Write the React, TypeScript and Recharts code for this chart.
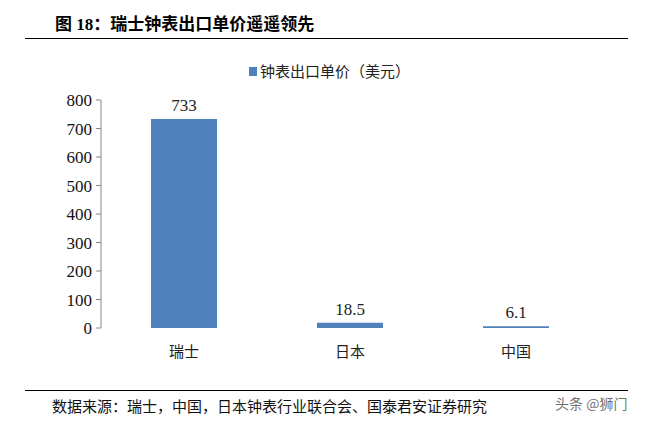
import { Bar, BarChart, LabelList, XAxis, YAxis } from "recharts";

const categories = ["瑞士", "日本", "中国"];
const unitPrice = [733, 18.5, 6.1];
const yTicks = [0, 100, 200, 300, 400, 500, 600, 700, 800];
const edgeTicks = [0, 1, 2, 3];
const seriesName = "钟表出口单价（美元）";

const data = categories.map((name, i) => ({ name, price: unitPrice[i] }));

const serif = '"Liberation Serif", "Times New Roman", "Noto Sans CJK SC", serif';
const cjk = '"Liberation Serif", "Noto Sans CJK SC", serif';
const barColor = "#4F81BD";

export default function App() {
  return (
    <div
      style={{
        position: "absolute",
        left: 0,
        top: 0,
        width: 659,
        height: 421,
        background: "#fff",
        overflow: "hidden",
      }}
    >
      <div
        style={{
          position: "absolute",
          left: 55,
          top: 10,
          fontFamily: cjk,
          fontWeight: "bold",
          fontSize: 17,
          color: "#000",
          whiteSpace: "nowrap",
        }}
      >
        图 18：瑞士钟表出口单价遥遥领先
      </div>
      <div
        style={{
          position: "absolute",
          left: 25,
          top: 38,
          width: 603,
          height: 1,
          background: "#000",
        }}
      />

      {/* legend */}
      <div
        style={{
          position: "absolute",
          left: 0,
          top: 60,
          width: 659,
          textAlign: "center",
          fontFamily: cjk,
          fontSize: 15,
          color: "#222",
          whiteSpace: "nowrap",
        }}
      >
        <span
          style={{
            display: "inline-block",
            width: 8,
            height: 9,
            background: barColor,
            marginRight: 3,
            verticalAlign: "1px",
          }}
        />
        {seriesName}
      </div>

      <BarChart
        width={659}
        height={421}
        data={data}
        margin={{ top: 100, right: 60, bottom: 63, left: 51 }}
        style={{ position: "absolute", left: 0, top: 0 }}
      >
        <XAxis
          xAxisId="edges"
          type="number"
          domain={[0, 3]}
          ticks={edgeTicks}
          tick={false}
          height={0}
          tickSize={5}
          axisLine={{ stroke: "#868686" }}
          tickLine={{ stroke: "#868686" }}
        />
        <XAxis
          dataKey="name"
          height={30}
          axisLine={false}
          tickLine={false}
          tickSize={0}
          tickMargin={18}
          tick={{ fill: "#222", fontFamily: cjk, fontSize: 15 }}
        />
        <YAxis
          domain={[0, 800]}
          ticks={yTicks}
          interval={0}
          width={50}
          tickSize={5}
          tickMargin={4}
          axisLine={{ stroke: "#868686" }}
          tickLine={{ stroke: "#868686" }}
          tick={{ fill: "#111", fontFamily: serif, fontSize: 17 }}
        />
        <Bar
          dataKey="price"
          name={seriesName}
          fill={barColor}
          barSize={66}
          isAnimationActive={false}
        >
          <LabelList
            dataKey="price"
            position="top"
            offset={8}
            style={{ fill: "#222", fontFamily: serif, fontSize: 17 }}
          />
        </Bar>
      </BarChart>

      <div
        style={{
          position: "absolute",
          left: 25,
          top: 390,
          width: 603,
          height: 1,
          background: "#000",
        }}
      />
      <div
        style={{
          position: "absolute",
          left: 52,
          top: 395,
          fontFamily: cjk,
          fontSize: 15,
          color: "#111",
          whiteSpace: "nowrap",
        }}
      >
        数据来源：瑞士，中国，日本钟表行业联合会、国泰君安证券研究
      </div>
      <div
        style={{
          position: "absolute",
          left: 555,
          top: 393,
          fontFamily: '"Noto Sans CJK SC", sans-serif',
          fontSize: 14,
          color: "rgba(60,60,60,0.75)",
          whiteSpace: "nowrap",
        }}
      >
        头条 @狮门
      </div>
    </div>
  );
}
